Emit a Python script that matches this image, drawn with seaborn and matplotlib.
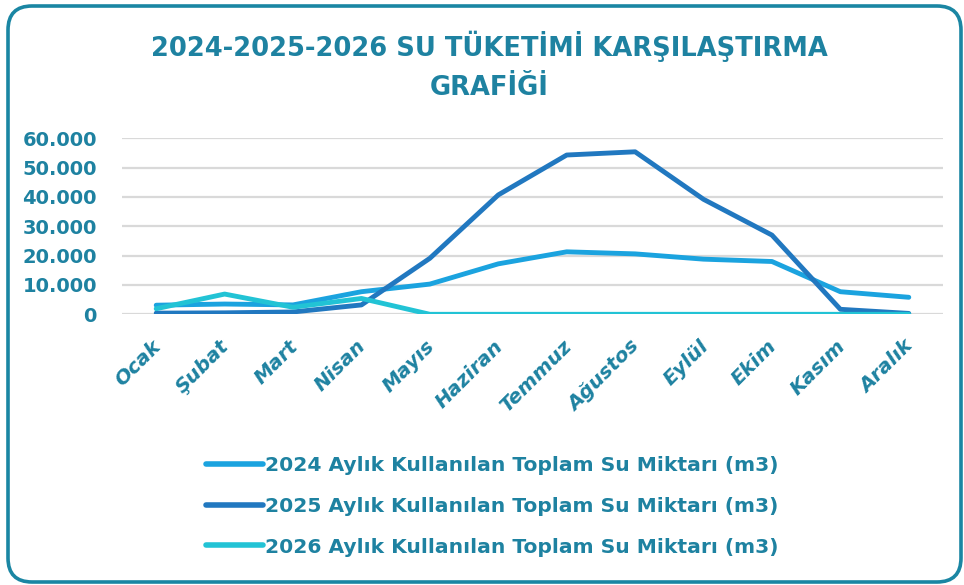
import matplotlib
matplotlib.use("Agg")
import matplotlib.pyplot as plt
import matplotlib.transforms as mtransforms
import seaborn as sns
import pandas as pd
from matplotlib.patches import FancyBboxPatch
from matplotlib.ticker import FuncFormatter, MultipleLocator

months = ["Ocak", "Şubat", "Mart", "Nisan", "Mayıs", "Haziran", "Temmuz",
          "Ağustos", "Eylül", "Ekim", "Kasım", "Aralık"]
values_2024 = [3100, 3500, 3200, 7700, 10300, 17200, 21300, 20600, 18800, 18000, 7700, 5800]
values_2025 = [400, 500, 800, 3200, 19100, 40700, 54300, 55400, 39200, 27000, 1700, 300]
values_2026 = [1900, 6900, 2400, 5400, 0, 0, 0, 0, 0, 0, 0, 0]
series_names = ["2024 Aylık Kullanılan Toplam Su Miktarı (m3)",
                "2025 Aylık Kullanılan Toplam Su Miktarı (m3)",
                "2026 Aylık Kullanılan Toplam Su Miktarı (m3)"]
title = "2024-2025-2026 SU TÜKETİMİ KARŞILAŞTIRMA\nGRAFİĞİ"

colors = ["#1BA3DF", "#2178C0", "#22C3D5"]
text_color = "#1E82A1"

rows = []
for name, vals in zip(series_names, [values_2024, values_2025, values_2026]):
    for m, v in zip(months, vals):
        rows.append({"Ay": m, "Değer": v, "Seri": name})
df = pd.DataFrame(rows)

sns.set_theme(style="white")
plt.rcParams["font.family"] = ["DejaVu Sans"]
plt.rcParams["font.weight"] = "bold"

W, H = 964, 585
fig = plt.figure(figsize=(W / 100, H / 100), dpi=100)

# background frame
bg = fig.add_axes([0, 0, 1, 1], zorder=-1)
bg.set_xlim(0, W)
bg.set_ylim(H, 0)
bg.axis("off")
bg.add_patch(FancyBboxPatch((8, 6), 953, 576,
                            boxstyle="round,pad=0,rounding_size=24",
                            fill=False, edgecolor="#1A86A3", linewidth=2.6))

ax = fig.add_axes([122 / W, (H - 314.3) / H, (943 - 122) / W, (314.3 - 138.3) / H])
sns.lineplot(data=df, x="Ay", y="Değer", hue="Seri", palette=colors,
             linewidth=3.5, sort=False, ax=ax, legend=True)
ax.set_ylim(0, 60000)
ax.set_xlim(-0.5, len(months) - 0.5)
ax.yaxis.set_major_locator(MultipleLocator(10000))
ax.yaxis.set_major_formatter(FuncFormatter(lambda v, p: f"{int(v):,}".replace(",", ".")))
ax.grid(axis="y", color="#D9D9D9", linewidth=1.6)
ax.grid(axis="x", visible=False)
for s in ax.spines.values():
    s.set_visible(False)
ax.set_xlabel("")
ax.set_ylabel("")
ax.tick_params(axis="both", length=0)
ax.tick_params(axis="y", pad=18, labelsize=14, labelcolor=text_color)
ax.set_xticks(range(len(months)))
ax.set_xticklabels(months, fontsize=14.5, fontstyle="italic", fontweight="bold",
                   color=text_color, rotation=45, ha="right", rotation_mode="anchor")
ax.tick_params(axis="x", pad=16)
offset = mtransforms.ScaledTranslation(-0.05, 0, fig.dpi_scale_trans)
for lbl in ax.get_xticklabels():
    lbl.set_transform(lbl.get_transform() + offset)

handles, labels = ax.get_legend_handles_labels()
ax.get_legend().remove()
leg = fig.legend(handles, labels, loc="upper left", bbox_to_anchor=(196 / W, 1 - 446 / H),
                 frameon=False, fontsize=14.6, handlelength=2.8, handletextpad=0.1,
                 labelspacing=1.07, borderpad=0)
for t in leg.get_texts():
    t.set_color(text_color)
    t.set_fontweight("bold")
for l in leg.get_lines():
    l.set_linewidth(4)
    l.set_solid_capstyle("round")

fig.text(489 / W, 1 - 66 / H, title, ha="center", va="center", color=text_color,
         fontsize=18.5, fontweight="bold", linespacing=1.65)

fig.savefig("out.png", dpi=100)
